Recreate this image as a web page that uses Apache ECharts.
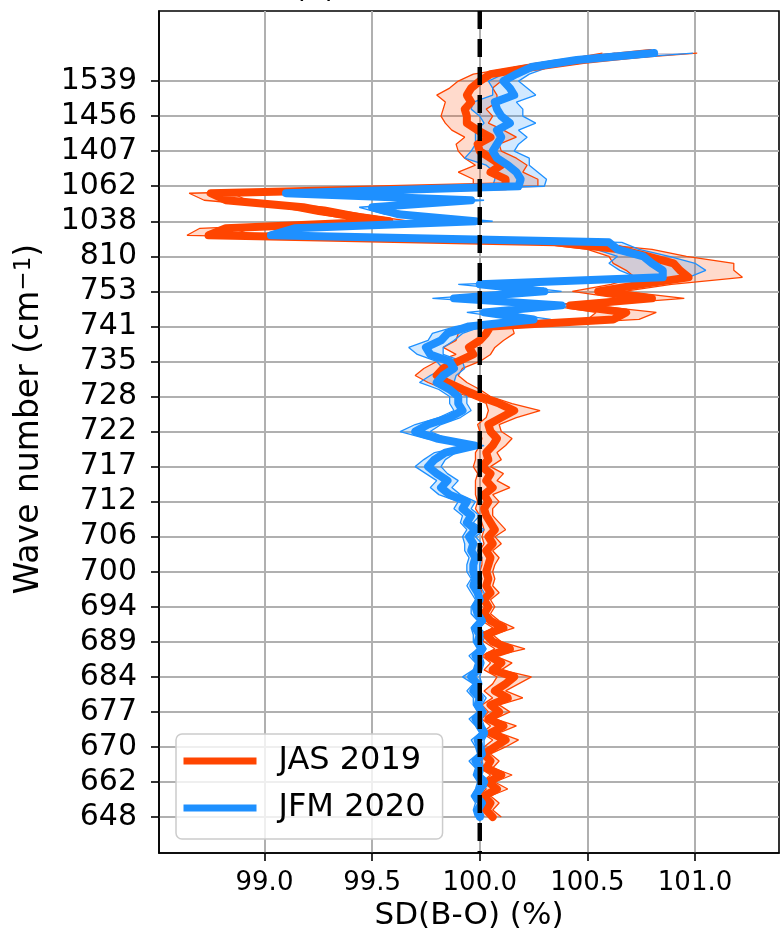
<!DOCTYPE html>
<html><head><meta charset="utf-8">
<script src="https://cdn.jsdelivr.net/npm/echarts@6/dist/echarts.min.js"></script>
<style>html,body{margin:0;padding:0;background:#fff}#c{width:781px;height:938px}</style>
</head><body><div id="c"></div>
<script>
// y tick labels (wave numbers, cm-1), one every 5 channels starting at channel 0
const tickLabels = ['648','662','670','677','684','689','694','700','706','712','717','722','728','735','741','753','810','1038','1062','1407','1456','1539'];
const channelsPerTick = 5;
const xTicks = [99.0, 99.5, 100.0, 100.5, 101.0];
const xRange = [98.51, 101.39];
const yRange = [-5.13, 115];
const refValue = 100;

// JAS 2019 mean SD(B-O) per channel (bottom to top)
const jasMean = [
100.06,100.03,100.05,100.02,100.08,100.04,100.10,100.03,100.05,100.02,
100.07,100.12,100.05,100.11,100.04,100.09,100.05,100.13,100.07,100.12,
100.16,100.06,100.10,100.04,100.14,100.06,100.03,100.11,100.05,100.02,
100.04,100.02,100.05,100.03,100.04,100.03,100.04,100.05,100.03,100.06,
100.04,100.07,100.05,100.03,100.02,100.04,100.02,100.06,100.03,100.05,
100.01,100.04,100.03,100.06,100.08,100.05,100.04,100.10,100.16,100.09,
100.00,99.92,99.85,99.80,99.83,99.90,99.97,99.95,100.00,100.03,
100.05,100.62,100.68,100.42,100.80,100.55,100.75,100.97,100.93,100.90,
100.78,100.65,100.35,98.74,98.82,99.58,99.35,99.18,98.82,98.75,
100.12,100.12,100.05,100.10,100.05,100.00,99.99,100.05,99.99,99.94,
99.94,99.93,99.96,99.94,99.96,100.00,100.05,100.25,100.48,100.79];
const jasSd = [
.04,.03,.04,.03,.05,.03,.05,.03,.04,.03,
.05,.06,.04,.06,.03,.05,.04,.07,.05,.06,
.08,.04,.05,.03,.07,.04,.03,.05,.04,.03,
.03,.03,.04,.03,.03,.03,.03,.04,.03,.04,
.03,.05,.04,.03,.04,.05,.04,.08,.05,.06,
.04,.06,.05,.06,.07,.05,.05,.07,.12,.06,
.05,.08,.09,.10,.09,.10,.08,.12,.11,.13,
.10,.12,.14,.10,.15,.12,.14,.25,.25,.28,
.18,.15,.12,.10,.12,.10,.10,.10,.10,.10,
.15,.15,.15,.12,.12,.10,.10,.12,.12,.10,
.12,.10,.12,.14,.10,.10,.08,.08,.10,.22];
// JFM 2020 mean SD(B-O) per channel
const jfmMean = [
100.00,99.99,100.01,99.98,100.00,100.02,99.99,100.00,99.98,100.01,
100.00,99.99,100.02,100.00,99.98,100.01,99.99,100.00,99.97,99.99,
99.96,99.99,100.00,99.98,100.01,99.99,100.00,99.98,100.01,99.99,
99.98,100.00,99.99,99.97,99.98,99.97,99.97,99.98,99.96,99.97,
99.95,99.98,99.94,99.96,99.92,99.94,99.86,99.82,99.85,99.80,
99.76,99.79,99.84,99.98,99.80,99.70,99.76,99.86,99.92,99.90,
99.90,99.86,99.80,99.83,99.88,99.86,99.77,99.75,99.82,99.85,
99.95,100.25,100.02,100.38,99.88,100.30,100.00,100.85,100.85,100.80,
100.76,100.64,100.60,99.03,99.14,99.98,99.62,99.50,99.96,99.10,
100.18,100.19,100.17,100.13,100.08,100.06,100.08,100.10,100.08,100.14,
100.10,100.08,100.07,100.16,100.14,100.11,100.17,100.24,100.45,100.81];
const jfmSd = [
.02,.02,.03,.02,.02,.03,.02,.02,.03,.02,
.02,.03,.02,.02,.03,.02,.02,.03,.03,.02,
.04,.02,.02,.03,.02,.02,.03,.02,.02,.03,
.02,.02,.03,.03,.02,.03,.03,.03,.03,.04,
.03,.04,.03,.04,.04,.04,.05,.05,.05,.05,
.06,.05,.05,.04,.05,.07,.06,.05,.04,.04,
.04,.05,.08,.06,.05,.06,.06,.08,.06,.07,
.06,.08,.08,.10,.10,.08,.10,.12,.20,.20,
.12,.10,.06,.05,.05,.08,.06,.06,.06,.05,
.12,.12,.10,.10,.15,.10,.10,.12,.10,.12,
.10,.12,.10,.10,.08,.07,.06,.08,.10,.18];

const RED = '#FF4500', BLUE = '#1E90FF';
const FONT = 'DejaVu Sans';
const tickPos = tickLabels.map((_, k) => k * channelsPerTick);
const pairs = vals => vals.map((v, i) => [v, i]);
const lo = (m, s) => m.map((v, i) => +(v - s[i]).toFixed(3));
const hi = (m, s) => m.map((v, i) => +(v + s[i]).toFixed(3));

function band(name, mean, sd, fill, z) {
  return {
    type: 'custom', name, z, silent: true,
    data: [[mean[0], 0]],
    encode: { x: 0, y: 1 },
    renderItem(params, api) {
      const pts = [];
      for (let i = 0; i < mean.length; i++) pts.push(api.coord([mean[i] - sd[i], i]));
      for (let i = mean.length - 1; i >= 0; i--) pts.push(api.coord([mean[i] + sd[i], i]));
      return { type: 'polygon', shape: { points: pts }, style: { fill: fill } };
    }
  };
}
function edge(name, vals, color, z) {
  return { type: 'line', name, data: pairs(vals), symbol: 'none', silent: true, z,
    lineStyle: { color, width: 1.3 }, itemStyle: { color } };
}
function meanLine(name, vals, color, z) {
  return { type: 'line', name, data: pairs(vals), symbol: 'none', z, color,
    lineStyle: { color, width: 8, join: 'round', cap: 'round' }, itemStyle: { color } };
}

const chart = echarts.init(document.getElementById('c'), null, { renderer: 'canvas' });
chart.setOption({
  animation: false,
  backgroundColor: '#fff',
  textStyle: { fontFamily: FONT },
  grid: { left: 159, right: 2, top: 11, bottom: 85, show: true, borderColor: '#000', borderWidth: 1.6, containLabel: false },
  graphic: [{ type: 'text', left: 294, top: -25.5, style: { text: '(b)', font: '30px "DejaVu Sans"', fill: '#000' } }],
  legend: {
    data: ['JAS 2019', 'JFM 2020'], orient: 'vertical', left: 176, top: 734,
    icon: 'rect', itemWidth: 73, itemHeight: 7, itemGap: 11,
    padding: [9, 17, 13, 7.5],
    backgroundColor: 'rgba(255,255,255,0.8)', borderColor: '#cccccc', borderWidth: 1.5, borderRadius: 6,
    textStyle: { fontSize: 32, color: '#000', fontFamily: FONT, lineHeight: 36, padding: [0, 0, 0, 17] }
  },
  xAxis: {
    type: 'value', min: xRange[0], max: xRange[1],
    name: 'SD(B-O) (%)', nameLocation: 'middle', nameGap: 47,
    nameTextStyle: { fontSize: 31, color: '#000', fontFamily: FONT },
    axisLine: { show: true, onZero: false, lineStyle: { color: '#000', width: 1.6 } },
    axisTick: { show: true, length: 8, lineStyle: { color: '#000', width: 1.6 }, customValues: xTicks },
    axisLabel: { fontSize: 26, color: '#000', margin: 17, customValues: xTicks, formatter: v => v.toFixed(1) },
    splitLine: { show: true, lineStyle: { color: '#b0b0b0', width: 2 } }
  },
  yAxis: {
    type: 'value', min: yRange[0], max: yRange[1],
    name: '{a|Wave number (cm}{s|−1}{a|)}', nameLocation: 'middle', nameGap: 113, nameRotate: 90,
    nameTextStyle: { color: '#000', fontFamily: FONT, padding: [0, 0, 0, 26],
      rich: { a: { fontSize: 33, fontFamily: FONT, color: '#000' }, s: { fontSize: 23, fontFamily: FONT, color: '#000', verticalAlign: 'top', padding: [0, 0, 10, 0] } } },
    axisLine: { show: true, onZero: false, lineStyle: { color: '#000', width: 1.6 } },
    axisTick: { show: true, length: 8, lineStyle: { color: '#000', width: 1.6 }, customValues: tickPos },
    axisLabel: { fontSize: 30, color: '#000', margin: 22, customValues: tickPos,
      formatter: v => tickLabels[Math.round(v / channelsPerTick)] },
    splitLine: { show: true, lineStyle: { color: '#b0b0b0', width: 2 } }
  },
  series: [
    band('JAS band', jasMean, jasSd, 'rgba(255,69,0,0.2)', 2),
    band('JFM band', jfmMean, jfmSd, 'rgba(30,144,255,0.2)', 3),
    edge('JAS lo', lo(jasMean, jasSd), RED, 4),
    edge('JAS hi', hi(jasMean, jasSd), RED, 4),
    edge('JFM lo', lo(jfmMean, jfmSd), BLUE, 5),
    edge('JFM hi', hi(jfmMean, jfmSd), BLUE, 5),
    meanLine('JAS 2019', jasMean, RED, 6),
    meanLine('JFM 2020', jfmMean, BLUE, 7),
    { type: 'line', name: 'ref', data: [[refValue, yRange[1]], [refValue, yRange[0]]], symbol: 'none', silent: true, z: 8,
      lineStyle: { color: '#000', width: 4.5, type: [18, 10] } }
  ]
});
</script></body></html>
